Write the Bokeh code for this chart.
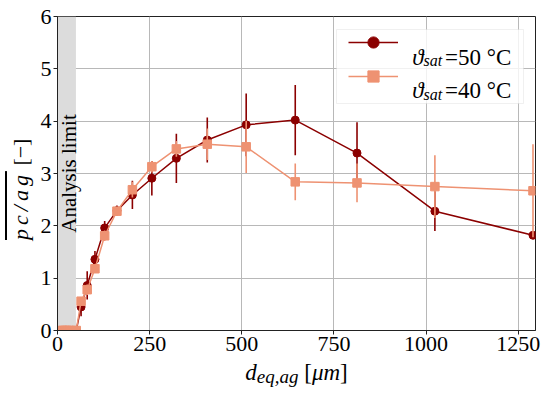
import math
from bokeh.plotting import figure
from bokeh.models import (Range1d, FixedTicker, Legend, LegendItem, Label,
                          BoxAnnotation, Div)
from bokeh.layouts import row, column
from bokeh.embed import file_html
from bokeh.resources import INLINE

# ---------------- data ----------------
d_eq = [12.7, 16.0, 20.2, 25.4, 32.0, 40.3, 50.8, 64.0, 80.6, 101.6, 128.0, 161.3,
        203.2, 256.0, 322.5, 406.4, 512.0, 645.1, 812.7, 1024.0, 1290.2]
pcag_50 = [0, 0, 0, 0, 0, 0, 0, 0.45, 0.86, 1.36, 1.96, 2.29,
           2.59, 2.91, 3.29, 3.64, 3.93, 4.02, 3.39, 2.28, 1.82]
err_50 = [0, 0, 0, 0, 0, 0, 0, 0.18, 0.27, 0.16, 0.13, 0.10,
          0.27, 0.33, 0.47, 0.43, 0.60, 0.67, 0.59, 0.38, 0.05]
pcag_40 = [0, 0, 0, 0, 0, 0, 0, 0.56, 0.78, 1.18, 1.81, 2.28,
           2.69, 3.13, 3.47, 3.56, 3.51, 2.84, 2.82, 2.75, 2.67]
err_40 = [0, 0, 0, 0, 0, 0, 0, 0.08, 0.10, 0.08, 0.10, 0.08,
          0.15, 0.11, 0.15, 0.30, 0.50, 0.35, 0.37, 0.60, 0.89]
analysis_limit = 50
x_ticks = [0, 250, 500, 750, 1000, 1250]
y_ticks = [0, 1, 2, 3, 4, 5, 6]

C50 = "#8b0000"
C40 = "#ee9272"
FONT = "Liberation Serif"

p = figure(width=506, height=360, output_backend="svg", toolbar_location=None,
           x_range=Range1d(0, 1297), y_range=Range1d(0, 6),
           min_border_left=21, min_border_right=7, min_border_top=16,
           min_border_bottom=30, margin=0)
p.background_fill_color = "white"
p.border_fill_color = "white"
p.outline_line_color = "#222222"
p.outline_line_width = 1

for ax in (p.xaxis[0], p.yaxis[0]):
    ax.major_label_text_font = FONT
    ax.major_label_text_font_size = "22px"
    ax.major_label_text_color = "black"
    ax.axis_line_color = "#222222"
    ax.major_tick_line_color = "#222222"
    ax.major_tick_out = 4
    ax.major_tick_in = 0
    ax.minor_tick_out = 0
    ax.minor_tick_in = 0
    ax.major_label_standoff = 2
p.xaxis.ticker = FixedTicker(ticks=x_ticks)
p.yaxis.ticker = FixedTicker(ticks=y_ticks)

p.grid.grid_line_color = "#b8b8b8"
p.grid.grid_line_width = 1

# analysis-limit band
band = BoxAnnotation(left=0, right=analysis_limit, fill_color="#dcdcdc",
                     fill_alpha=1.0, line_color=None, level="underlay")
p.add_layout(band)
p.add_layout(Label(x=analysis_limit / 2, y=3.0, x_offset=2, text="Analysis limit",
                   angle=math.pi / 2, text_align="center", text_baseline="middle",
                   text_font=FONT, text_font_size="21px", text_color="black"))

# series 50 °C
lo50 = [v - e for v, e in zip(pcag_50, err_50)]
hi50 = [v + e for v, e in zip(pcag_50, err_50)]
p.segment(x0=d_eq, y0=lo50, x1=d_eq, y1=hi50, line_color=C50, line_width=1.6)
l50 = p.line(d_eq, pcag_50, line_color=C50, line_width=1.5)
m50 = p.scatter(d_eq, pcag_50, marker="circle", size=8, fill_color=C50, line_color=C50)

# series 40 °C
lo40 = [v - e for v, e in zip(pcag_40, err_40)]
hi40 = [v + e for v, e in zip(pcag_40, err_40)]
p.segment(x0=d_eq, y0=lo40, x1=d_eq, y1=hi40, line_color=C40, line_width=1.6)
l40 = p.line(d_eq, pcag_40, line_color=C40, line_width=1.5)
m40 = p.scatter(d_eq, pcag_40, marker="square", size=8.5, fill_color=C40, line_color=C40)

# legend frame (semi-transparent box) + legend glyphs + rich-text labels
p.add_layout(BoxAnnotation(left=300, right=487, top=29, bottom=103,
                           left_units="canvas", right_units="canvas",
                           top_units="canvas", bottom_units="canvas",
                           fill_color="white", fill_alpha=0.8,
                           line_color="#cccccc", line_width=1))
legend = Legend(items=[LegendItem(label=" ", renderers=[l50, m50]),
                       LegendItem(label=" ", renderers=[l40, m40])],
                location="top_right", margin=12, padding=6, spacing=6,
                glyph_height=28, glyph_width=50, label_standoff=20,
                label_width=105, label_height=28,
                border_line_color=None, background_fill_alpha=0.0,
                label_text_font_size="22px")
p.add_layout(legend)

def lab(x, y, text, size, style="normal"):
    p.add_layout(Label(x=x, y=y, x_units="canvas", y_units="canvas", text=text,
                       text_font=FONT, text_font_size=size,
                       text_font_style=style, text_color="black",
                       text_align="left", text_baseline="alphabetic",
                       level="overlay"))

for yb, t in ((56.5, "=50 °C"), (90.0, "=40 °C")):
    lab(375.7, yb, "ϑ", "23px", "italic")
    lab(387.0, yb + 3.5, "sat", "16px", "italic")
    lab(408.5, yb, t, "23px")

# axis titles as rich text
ydiv = Div(text='<span style="text-decoration: overline; letter-spacing: 4px;">'
                '<i>pc/ag</i></span> [−]',
           width=36, height=378, margin=0,
           styles={"writing-mode": "vertical-rl", "transform": "rotate(180deg)",
                   "text-align": "center", "font-family": FONT,
                   "font-size": "22px", "line-height": "41px", "color": "black",
                   "white-space": "nowrap", "overflow": "hidden",
                   "box-sizing": "border-box"})
xdiv = Div(text='<i>d<sub style="font-size:19px; vertical-align:-3px;">eq,ag</sub>'
                '</i> [<i>μm</i>]',
           width=506, height=26, margin=0,
           styles={"text-align": "center", "padding-left": "15px",
                   "box-sizing": "border-box",
                   "font-family": FONT, "font-size": "23px",
                   "line-height": "25px", "color": "black",
                   "white-space": "nowrap"})

layout = row(ydiv, column(p, xdiv, spacing=0), spacing=0)
open("out.html", "w").write(file_html(layout, INLINE))
